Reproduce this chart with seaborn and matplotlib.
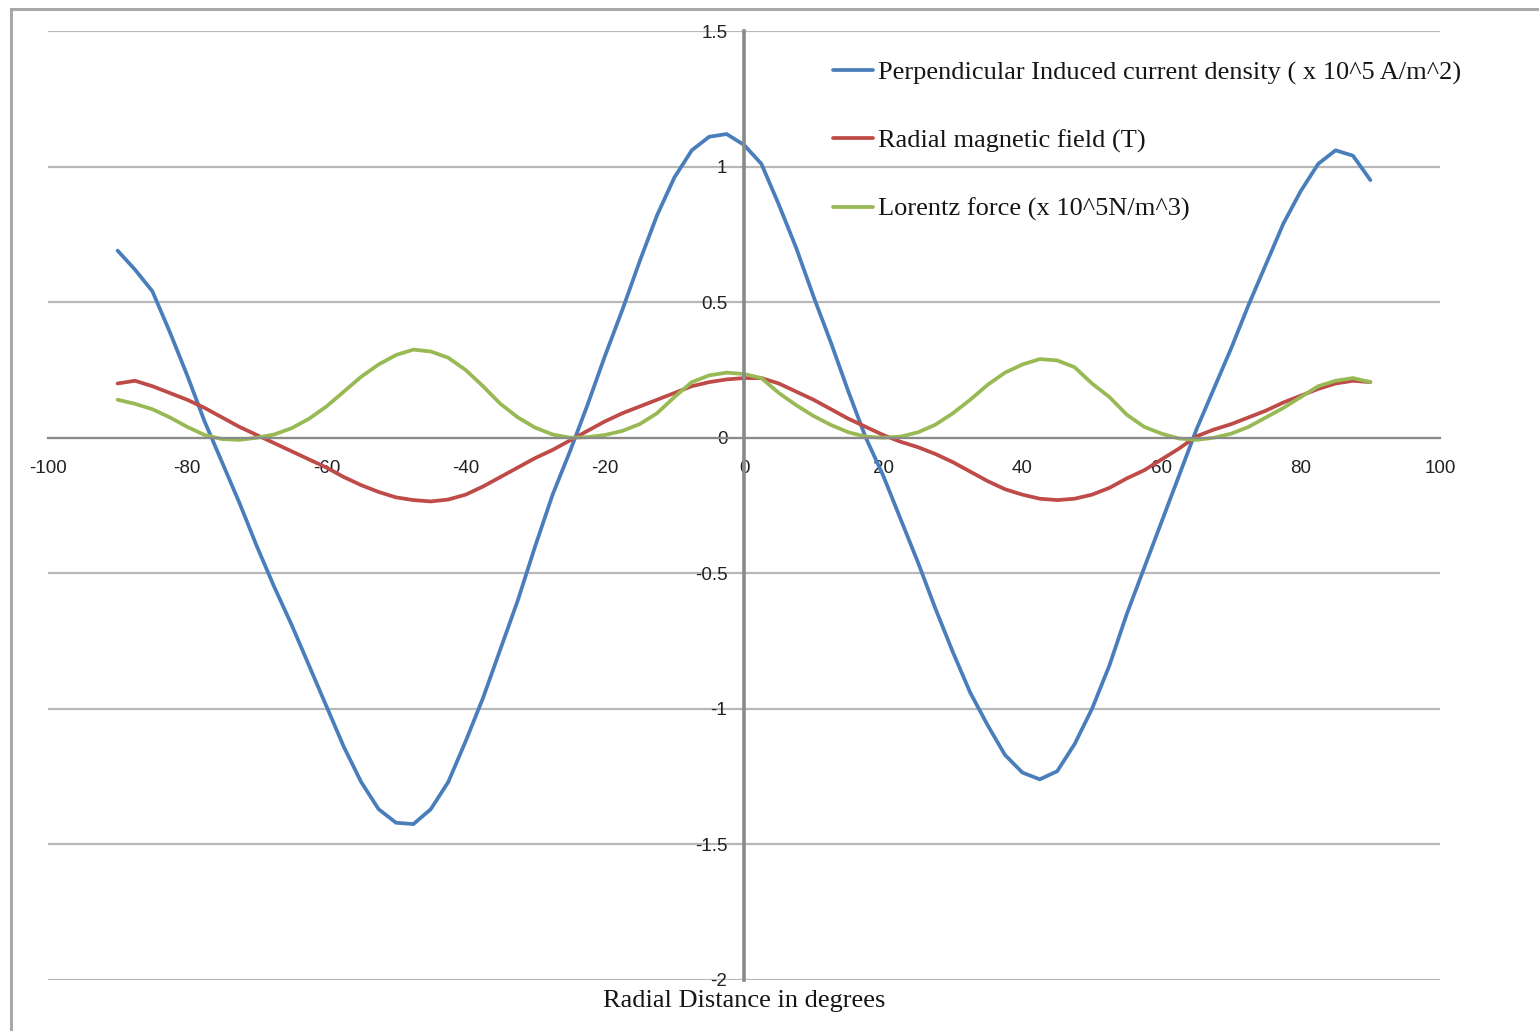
import numpy as np
import pandas as pd
import seaborn as sns
import matplotlib.pyplot as plt
from matplotlib.lines import Line2D
from matplotlib.patches import Rectangle

# Angular positions (degrees) at which the three quantities are sampled
angle_deg = np.arange(-90, 90.01, 2.5)

# Perpendicular induced current density (x 10^5 A/m^2)
current_density = [
    0.69, 0.62, 0.54, 0.39, 0.23, 0.06, -0.09, -0.24, -0.40, -0.55,
    -0.69, -0.84, -0.99, -1.14, -1.27, -1.37, -1.42, -1.425, -1.37, -1.27,
    -1.12, -0.96, -0.78, -0.60, -0.40, -0.21, -0.05, 0.12, 0.30, 0.47,
    0.65, 0.82, 0.96, 1.06, 1.11, 1.12, 1.08, 1.01, 0.86, 0.70,
    0.52, 0.35, 0.17, 0.00, -0.14, -0.30, -0.46, -0.63, -0.79, -0.94,
    -1.06, -1.17, -1.235, -1.26, -1.23, -1.13, -1.0, -0.84, -0.65, -0.48,
    -0.31, -0.14, 0.03, 0.18, 0.33, 0.49, 0.64, 0.79, 0.91, 1.01,
    1.06, 1.04, 0.95,
]

# Radial magnetic field (T)
radial_field = [
    0.20, 0.21, 0.19, 0.165, 0.14, 0.11, 0.075, 0.04, 0.01, -0.02,
    -0.05, -0.08, -0.11, -0.145, -0.175, -0.20, -0.22, -0.23, -0.235, -0.228,
    -0.21, -0.18, -0.145, -0.11, -0.075, -0.045, -0.01, 0.025, 0.06, 0.09,
    0.115, 0.14, 0.165, 0.19, 0.205, 0.215, 0.22, 0.22, 0.20, 0.17,
    0.14, 0.105, 0.07, 0.04, 0.01, -0.015, -0.035, -0.06, -0.09, -0.125,
    -0.16, -0.19, -0.21, -0.225, -0.23, -0.225, -0.21, -0.185, -0.15, -0.12,
    -0.08, -0.04, 0.005, 0.03, 0.05, 0.075, 0.10, 0.13, 0.155, 0.18,
    0.20, 0.21, 0.205,
]

# Lorentz force (x 10^5 N/m^3)
lorentz_force = [
    0.14, 0.125, 0.105, 0.075, 0.04, 0.01, -0.005, -0.008, 0.0, 0.012,
    0.035, 0.07, 0.115, 0.17, 0.225, 0.27, 0.305, 0.325, 0.318, 0.295,
    0.25, 0.19, 0.125, 0.075, 0.037, 0.012, 0.0, 0.002, 0.01, 0.025,
    0.05, 0.09, 0.15, 0.205, 0.23, 0.24, 0.235, 0.22, 0.165, 0.12,
    0.08, 0.047, 0.02, 0.004, 0.0, 0.004, 0.02, 0.048, 0.09, 0.14,
    0.195, 0.24, 0.27, 0.29, 0.285, 0.26, 0.20, 0.15, 0.085, 0.04,
    0.015, -0.003, -0.008, 0.0, 0.015, 0.04, 0.075, 0.11, 0.15, 0.19,
    0.21, 0.22, 0.205,
]

series_names = [
    "Perpendicular Induced current density ( x 10^5 A/m^2)",
    "Radial magnetic field (T)",
    "Lorentz force (x 10^5N/m^3)",
]
series_colors = ["#4a7ebb", "#be4b48", "#98b954"]

x_ticks = [-100, -80, -60, -40, -20, 0, 20, 40, 60, 80, 100]
y_ticks = [-2, -1.5, -1, -0.5, 0, 0.5, 1, 1.5]
x_label = "Radial Distance in degrees"

frames = []
for name, values in zip(series_names, [current_density, radial_field, lorentz_force]):
    frames.append(pd.DataFrame({"angle": angle_deg, "value": values, "series": name}))
df = pd.concat(frames, ignore_index=True)

sns.set_theme(style="white")
plt.rcParams["font.family"] = ["Liberation Serif", "DejaVu Serif"]
plt.rcParams["lines.solid_joinstyle"] = "round"
plt.rcParams["lines.solid_capstyle"] = "round"

W, H = 1539, 1031
fig = plt.figure(figsize=(W / 100, H / 100), dpi=100)
fig.patch.set_facecolor("white")
ax = fig.add_axes([48 / W, 1 - 980 / H, (1440 - 48) / W, (980 - 31) / H])

sns.lineplot(
    data=df, x="angle", y="value", hue="series", hue_order=series_names,
    palette=dict(zip(series_names, series_colors)), linewidth=2.7,
    estimator=None, sort=False, legend=False, ax=ax,
)

ax.set_xlim(-100, 100)
ax.set_ylim(-2, 1.5)
ax.set_xticks(x_ticks)
ax.set_yticks(y_ticks)
ax.set_xticklabels([f"{t:g}" for t in x_ticks])
ax.set_yticklabels([f"{t:g}" for t in y_ticks])
ax.yaxis.grid(True, color="#b8b8b8", linewidth=1.6)
ax.xaxis.grid(False)
ax.set_axisbelow(True)

for side in ("top", "right"):
    ax.spines[side].set_visible(False)
ax.spines["left"].set_position(("data", 0))
ax.spines["left"].set_color("#8a8a8a")
ax.spines["left"].set_linewidth(2.6)
ax.spines["bottom"].set_position(("data", 0))
ax.spines["bottom"].set_color("#8a8a8a")
ax.spines["bottom"].set_linewidth(1.6)

ax.tick_params(axis="both", length=0, labelsize=13.5, labelcolor="#222222",
               labelfontfamily="Liberation Sans")
ax.tick_params(axis="x", pad=16)
ax.tick_params(axis="y", pad=12)

ax.set_xlabel(x_label, fontsize=19, color="#151515")
ax.set_ylabel("")
ax.xaxis.set_label_coords(0.5, -0.0105)

handles = [Line2D([], [], color=c, linewidth=2.7) for c in series_colors]
fig.legend(
    handles, series_names, loc="upper left",
    bbox_to_anchor=(833 / W, 1 - 61 / H), frameon=False, fontsize=19,
    handlelength=1.5, handletextpad=0.2, labelspacing=1.68,
    borderpad=0, borderaxespad=0, labelcolor="#151515",
)

# outer frame around the chart area
fig.patches.append(Rectangle((11 / W, -0.05), 1.2, 1 - 9 / H + 0.05,
                             transform=fig.transFigure, fill=False,
                             edgecolor="#a8a8a8", linewidth=2.2))

fig.savefig("out.png", dpi=100, facecolor="white")
